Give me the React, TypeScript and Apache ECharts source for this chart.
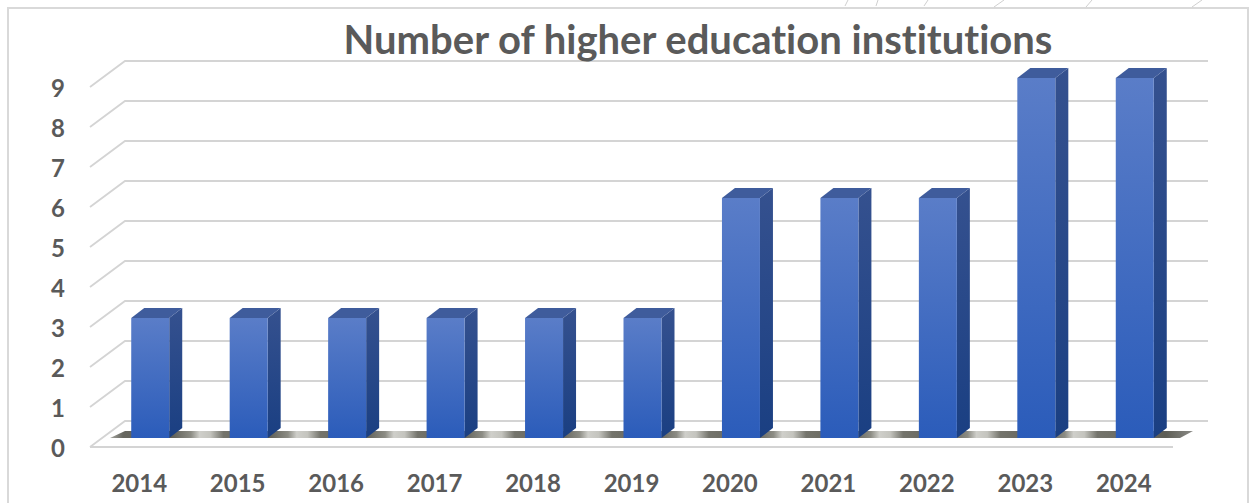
import React, { useEffect, useRef } from "react";
import * as echarts from "echarts";

const titleText = "Number of higher education institutions";
const categories = ["2014", "2015", "2016", "2017", "2018", "2019", "2020", "2021", "2022", "2023", "2024"];
const institutions = [3, 3, 3, 3, 3, 3, 6, 6, 6, 9, 9];
const yTicks = [0, 1, 2, 3, 4, 5, 6, 7, 8, 9];

const FONT = "Lato";
const TEXT = "#5a5a5a";
const GRID = "#d4d4d4";

const linear = (stops: [number, string][]) =>
  new echarts.graphic.LinearGradient(0, 0, 0, 1, stops.map(([offset, color]) => ({ offset, color })));

function renderWall(params: any, api: any) {
  const v = api.value(1);
  const y = api.coord([0, v])[1];
  const cs = params.coordSys;
  const x0 = cs.x;
  const x1 = cs.x + cs.width;
  const points = [
    [x0, y],
    [x0 + 35, y - 26],
    [x1 + 35, y - 26],
  ];
  return {
    type: "polyline",
    shape: { points },
    style: { fill: "none", stroke: GRID, lineWidth: 1.8 },
    silent: true,
  };
}

function renderFloor(params: any, api: any) {
  const y = api.coord([0, 0])[1];
  const cs = params.coordSys;
  const x0 = cs.x;
  const x1 = cs.x + cs.width;
  const n = categories.length;
  const start = x0 + 20;
  const span = x1 + 35 - start;
  const stops: { offset: number; color: string }[] = [{ offset: 0, color: "#a8a8a2" }, { offset: 0.012, color: "#66665f" }];
  for (let i = 0; i < n - 1; i++) {
    const gap = api.coord([i, 0])[0] + 66 - start;
    const c = gap / span;
    stops.push({ offset: c - 0.03, color: "#5e5e56" });
    stops.push({ offset: c - 0.012, color: "#8c8c84" });
    stops.push({ offset: c - 0.004, color: "#cfcfca" });
    stops.push({ offset: c + 0.006, color: "#c4c4be" });
    stops.push({ offset: c + 0.018, color: "#74746c" });
  }
  stops.push({ offset: 0.975, color: "#5e5e56" });
  stops.push({ offset: 1, color: "#8a8a86" });
  return {
    type: "group",
    children: [
      {
        type: "line",
        shape: { x1: x0, y1: y, x2: x1, y2: y },
        style: { stroke: GRID, lineWidth: 1.8 },
        silent: true,
      },
      {
        type: "polygon",
        shape: {
          points: [
            [x0 + 20, y - 9],
            [x0 + 35, y - 16],
            [x1 + 20, y - 16],
            [x1 + 7, y - 9],
          ],
        },
        style: { fill: new echarts.graphic.LinearGradient(0, 0, 1, 0, stops) },
        silent: true,
      },
    ],
  };
}

function renderBar(_: any, api: any) {
  const [cx, topRaw] = api.coord([api.value(0), api.value(1)]);
  const baseRaw = api.coord([api.value(0), 0])[1];
  const left = cx + 11 - 19;
  const right = cx + 11 + 19;
  const top = topRaw - 9;
  const bottom = baseRaw - 9;
  const dx = 13;
  const dy = 10;
  return {
    type: "group",
    children: [
      {
        type: "polygon",
        shape: {
          points: [
            [right, top],
            [right + dx, top - dy],
            [right + dx, bottom - dy],
            [right, bottom],
          ],
        },
        style: { fill: linear([[0, "#35518f"], [1, "#1a3f82"]]) },
      },
      {
        type: "polygon",
        shape: {
          points: [
            [left, top],
            [left + dx, top - dy],
            [right + dx, top - dy],
            [right, top],
          ],
        },
        style: { fill: "#3f5c9c" },
      },
      {
        type: "rect",
        shape: { x: left, y: top, width: right - left, height: bottom - top },
        style: { fill: linear([[0, "#5a7dc8"], [1, "#2b5cba"]]) },
      },
    ],
  };
}

export default function App() {
  const ref = useRef<HTMLDivElement>(null);

  useEffect(() => {
    const chart = echarts.init(ref.current!, undefined, { renderer: "svg" });
    chart.setOption({
      animation: false,
      backgroundColor: "#ffffff",
      title: {
        text: titleText,
        left: 693,
        top: 14,
        textAlign: "center",
        textStyle: { fontFamily: FONT, fontSize: 40, fontWeight: 700, color: TEXT },
      },
      grid: { left: 90, right: 78, top: 87, bottom: 56, containLabel: false },
      xAxis: {
        type: "category",
        data: categories,
        axisLine: { show: false },
        axisTick: { show: false },
        axisLabel: { fontFamily: FONT, fontSize: 24, fontWeight: 700, color: TEXT, margin: 23, interval: 0 },
      },
      yAxis: {
        type: "value",
        min: 0,
        max: 9,
        interval: 1,
        splitLine: { show: false },
        axisLine: { show: false },
        axisTick: { show: false },
        axisLabel: { fontFamily: FONT, fontSize: 24, fontWeight: 700, color: TEXT, margin: 25 },
      },
      series: [
        {
          type: "custom",
          name: "Back wall",
          renderItem: renderWall,
          data: yTicks.map((v) => [0, v]),
          z: 1,
          silent: true,
        },
        {
          type: "custom",
          name: "Floor",
          renderItem: renderFloor,
          data: [[0, 0]],
          z: 2,
          silent: true,
        },
        {
          type: "custom",
          name: "Number of higher education institutions",
          renderItem: renderBar,
          data: institutions.map((v, i) => [i, v]),
          z: 3,
        },
      ],
      graphic: [
        {
          type: "rect",
          z: -1,
          shape: { x: 8, y: 8, width: 1240, height: 520 },
          style: { fill: "none", stroke: "#d9d9d9", lineWidth: 2 },
          silent: true,
        },
        ...[
          [848, 0, 845, 6],
          [878, 0, 876, 6],
          [928, 0, 924, 6],
          [1004, 0, 994, 7],
          [1092, 0, 1086, 7],
          [1202, 0, 1192, 7],
        ].map(([x1, y1, x2, y2]) => ({
          type: "line",
          shape: { x1, y1, x2, y2 },
          style: { stroke: "#cfcfcf", lineWidth: 1 },
          silent: true,
        })),
      ],
    });
    return () => chart.dispose();
  }, []);

  return (
    <>
      <style>{"text{font-variant-ligatures:none}"}</style>
      <div ref={ref} style={{ position: "fixed", left: 0, top: 0, width: 1251, height: 503 }} />
    </>
  );
}
